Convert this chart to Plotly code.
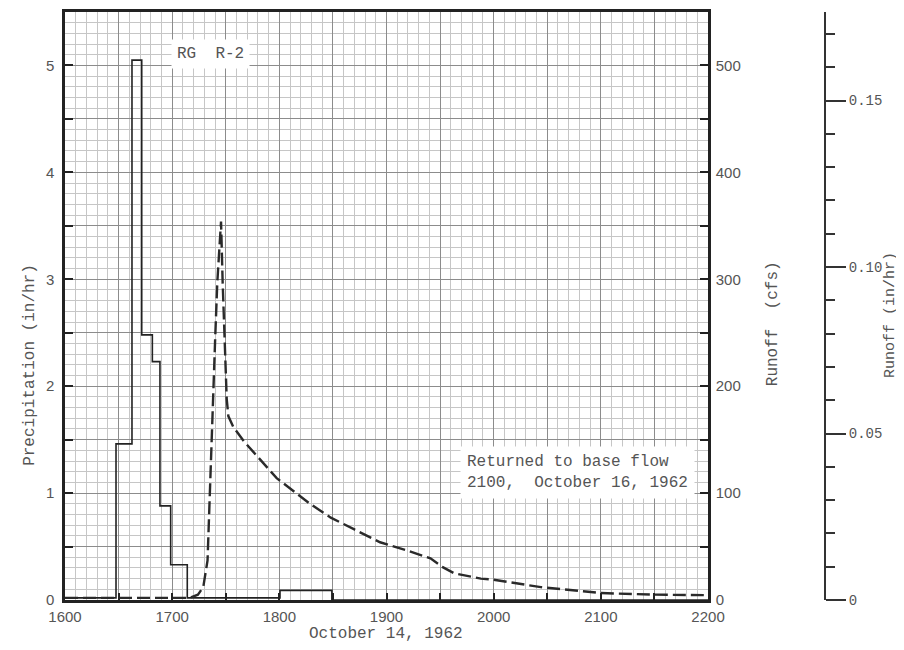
import plotly.graph_objects as go

# ---- data ----
precip_time = [1600, 1647.6, 1662.5, 1671.6, 1681.5, 1688.6, 1698.6, 1714.1, 1800.6, 1849, 2200]
precip_inhr = [0.02, 1.46, 5.05, 2.48, 2.23, 0.88, 0.33, 0.02, 0.09, 0.0, 0.0]

runoff_time = [1600, 1700, 1716, 1724, 1729, 1733, 1735.3, 1736.9, 1738.4, 1740, 1742.1, 1744,
               1745.6, 1747.1, 1749.3, 1750.9, 1752.4, 1757, 1767.3, 1797.5, 1828.6, 1848,
               1870, 1894, 1920, 1941, 1952, 1963, 1988, 2000, 2044, 2100, 2150, 2200]
runoff_cfs = [2, 2, 2, 5, 12, 37, 111, 148, 204, 241, 297, 334,
              354, 297, 235, 188, 172, 162, 148, 114, 90, 77,
              66, 54, 46, 39, 31, 25, 20, 19, 12, 6.5, 5, 4.5]

x_ticks = [1600, 1700, 1800, 1900, 2000, 2100, 2200]
precip_ticks = [0, 1, 2, 3, 4, 5]
cfs_ticks = [0, 100, 200, 300, 400, 500]
inhr_ticks = [0, 0.05, 0.10, 0.15]
inhr_labels = ["0", "0.05", "0.10", "0.15"]

MONO = "Liberation Mono, Courier New, monospace"
SANS = "Liberation Sans, Arial, sans-serif"
TXT = "#555555"

def steps(lo, hi, step):
    vals = []
    v = lo
    while v <= hi + 1e-9:
        vals.append(round(v, 6))
        v += step
    return vals

xv = steps(1600, 2200, 50)
xt = [str(int(v)) if int(v) in x_ticks else "" for v in xv]
yv = steps(0, 5.0, 0.5)
yt = [str(int(v)) if v in precip_ticks else "" for v in yv]
y2v = steps(0, 500, 50)
y2t = [str(int(v)) if int(v) in cfs_ticks else "" for v in y2v]

fig = go.Figure()
fig.add_trace(go.Scatter(x=precip_time, y=precip_inhr, mode="lines",
                         line=dict(shape="hv", color="#222222", width=1.6),
                         showlegend=False, name="Precipitation"))
fig.add_trace(go.Scatter(x=runoff_time, y=runoff_cfs, mode="lines", yaxis="y2",
                         line=dict(color="#2a2a2a", width=2.4, dash="13px,5px"),
                         showlegend=False, name="Runoff"))
# empty trace so the third (in/hr) axis is created
fig.add_trace(go.Scatter(x=[None], y=[None], mode="lines", yaxis="y3",
                         showlegend=False, hoverinfo="skip"))

fig.update_layout(
    width=896, height=634,
    margin=dict(l=57, r=79, t=1, b=42),
    paper_bgcolor="white", plot_bgcolor="white",
    xaxis=dict(domain=[0, 0.8461], range=[1600, 2200],
               tickmode="array", tickvals=xv, ticktext=xt,
               ticks="inside", ticklen=7, tickwidth=2, tickcolor="#222",
               showline=True, linecolor="#222", linewidth=2.5, mirror=True,
               showgrid=True, gridcolor="#8c8c8c", gridwidth=1.2,
               minor=dict(dtick=10, tick0=1600, showgrid=True, gridcolor="#c6c6c6", gridwidth=1),
               zeroline=False, ticklabelstandoff=1,
               tickfont=dict(family=SANS, size=15, color=TXT)),
    yaxis=dict(range=[0, 5.5], tickmode="array", tickvals=yv, ticktext=yt,
               ticks="inside", ticklen=8, tickwidth=2, tickcolor="#222",
               showline=True, linecolor="#222", linewidth=2.5, mirror=True,
               showgrid=True, gridcolor="#8c8c8c", gridwidth=1.2,
               minor=dict(dtick=0.1, tick0=0, showgrid=True, gridcolor="#c6c6c6", gridwidth=1),
               zeroline=False, ticklabelstandoff=5,
               tickfont=dict(family=SANS, size=15, color=TXT)),
    yaxis2=dict(range=[0, 550], overlaying="y", side="right", anchor="x",
                tickmode="array", tickvals=y2v, ticktext=y2t,
                ticks="inside", ticklen=8, tickwidth=2, tickcolor="#222",
                showline=True, linecolor="#222", linewidth=2.5,
                showgrid=False, zeroline=False, ticklabelstandoff=2,
                tickfont=dict(family=SANS, size=15, color=TXT)),
    yaxis3=dict(range=[0, 0.1766], overlaying="y", side="right", anchor="free", position=1.0,
                tickmode="array", tickvals=inhr_ticks, ticktext=inhr_labels,
                ticks="outside", ticklen=20, tickwidth=1.5, tickcolor="#333",
                minor=dict(dtick=0.01, tick0=0, ticks="outside", ticklen=9, tickwidth=1.5, tickcolor="#333"),
                showline=True, linecolor="#333", linewidth=2,
                showgrid=False, zeroline=False, ticklabelstandoff=0,
                tickfont=dict(family=MONO, size=14, color=TXT)),
)

fig.add_annotation(x=1736, y=5.11, xref="x", yref="y", text="RG  R-2", showarrow=False,
                   font=dict(family=MONO, size=16, color=TXT), bgcolor="white", borderpad=5)
fig.add_annotation(x=1969, y=1.19, xref="x", yref="y", xanchor="left",
                   text="Returned to base flow<br>2100,  October 16, 1962", align="left",
                   showarrow=False, font=dict(family=MONO, size=16, color=TXT),
                   bgcolor="white", borderpad=6)

fig.add_annotation(x=-0.046, y=0.40, xref="paper", yref="paper", xanchor="center", yanchor="middle",
                   text="Precipitation (in/hr)",
                   textangle=-90, showarrow=False, font=dict(family=MONO, size=16, color=TXT))
fig.add_annotation(x=0.931, y=0.47, xref="paper", yref="paper", xanchor="center", yanchor="middle",
                   text="Runoff  (cfs)",
                   textangle=-90, showarrow=False, font=dict(family=MONO, size=16, color=TXT))
fig.add_annotation(x=1.087, y=0.485, xref="paper", yref="paper", xanchor="center", yanchor="middle",
                   text="Runoff (in/hr)",
                   textangle=-90, showarrow=False, font=dict(family=MONO, size=15, color=TXT))
fig.add_annotation(x=0.4224, y=-0.0575, xref="paper", yref="paper", xanchor="center", yanchor="middle",
                   text="October 14, 1962",
                   showarrow=False, font=dict(family=MONO, size=16, color=TXT))

fig.write_html("out.html")
